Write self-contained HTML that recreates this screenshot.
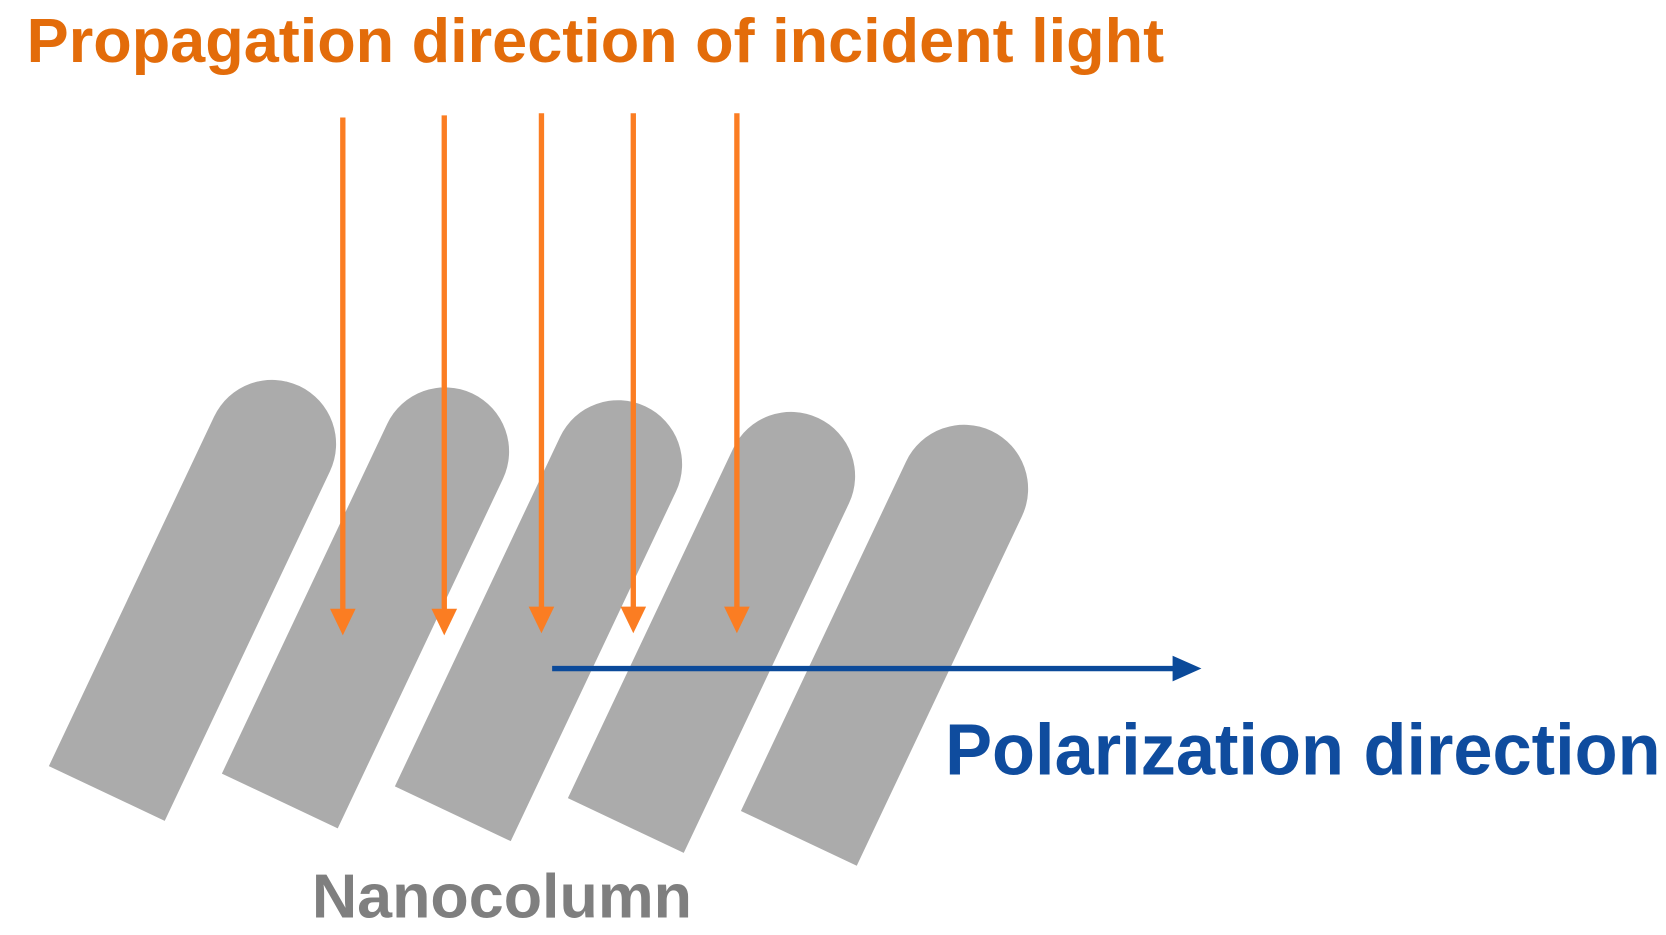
<!DOCTYPE html>
<html><head><meta charset="utf-8"><style>html,body{margin:0;padding:0;background:#fff;}svg{display:block}</style></head>
<body>
<svg width="1666" height="935" viewBox="0 0 1560 875.5" preserveAspectRatio="none" xmlns="http://www.w3.org/2000/svg">
<defs>
<path id="col" d="M-60,0 L-60,-362 A60,60 0 0 1 60,-362 L60,0 Z" fill="#ababab"/>
</defs>
<text x="25" y="58" font-family="Liberation Sans, sans-serif" font-weight="bold" font-size="58" fill="#e36c0a" textLength="1065" lengthAdjust="spacingAndGlyphs">Propagation direction of incident light</text>
<use href="#col" transform="translate(100,743) rotate(25.3)"/>
<use href="#col" transform="translate(262,750) rotate(25.3)"/>
<use href="#col" transform="translate(424,762) rotate(25.3)"/>
<use href="#col" transform="translate(586,773) rotate(25.3)"/>
<use href="#col" transform="translate(748,785) rotate(25.3)"/>
<g stroke="#fb7d22" stroke-width="5">
<line x1="321" y1="110" x2="321" y2="575"/>
<line x1="416" y1="108" x2="416" y2="575"/>
<line x1="507" y1="106" x2="507" y2="575"/>
<line x1="593" y1="106" x2="593" y2="575"/>
<line x1="690" y1="106" x2="690" y2="575"/>
</g>
<g fill="#fb7d22">
<polygon points="309,570 333,570 321,595"/>
<polygon points="404,570 428,570 416,595"/>
<polygon points="495,568 519,568 507,593"/>
<polygon points="581,568 605,568 593,593"/>
<polygon points="678,568 702,568 690,593"/>
</g>
<line x1="517" y1="626" x2="1100" y2="626" stroke="#0b4a9a" stroke-width="5"/>
<polygon points="1098,614 1125,626 1098,638" fill="#0b4a9a"/>
<text x="885" y="725" font-family="Liberation Sans, sans-serif" font-weight="bold" font-size="68" fill="#0f4c9e" textLength="670" lengthAdjust="spacingAndGlyphs">Polarization direction</text>
<text x="292" y="859" font-family="Liberation Sans, sans-serif" font-weight="bold" font-size="58" fill="#7f7f7f" textLength="356" lengthAdjust="spacingAndGlyphs">Nanocolumn</text>
</svg>
</body></html>
